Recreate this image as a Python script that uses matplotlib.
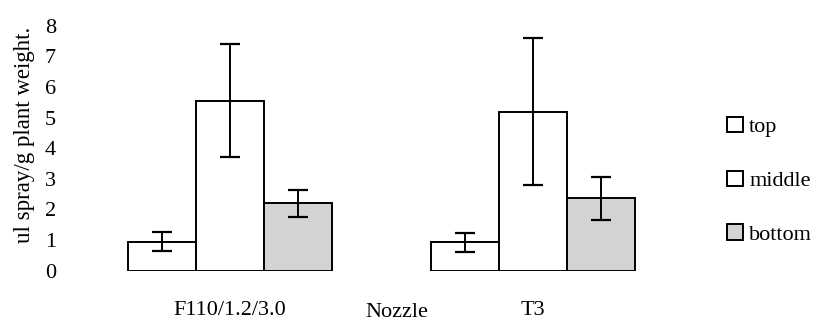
import matplotlib.pyplot as plt
import numpy as np

nozzles = ["F110/1.2/3.0", "T3"]
positions = ["top", "middle", "bottom"]
top_vals = [0.95, 0.93]
top_err = [0.32, 0.31]
middle_vals = [5.55, 5.2]
middle_err = [1.85, 2.4]
bottom_vals = [2.2, 2.37]
bottom_err = [0.45, 0.7]
colors = ["white", "white", "#d3d3d3"]
y_ticks = [0, 1, 2, 3, 4, 5, 6, 7, 8]


def main() -> None:
    plt.rcParams["font.family"] = "Liberation Serif"
    plt.rcParams["font.size"] = 16

    fig = plt.figure(figsize=(8.17, 3.23), dpi=100)
    ax = fig.add_axes([60 / 817, 52.3 / 323, 600 / 817, 254 / 323])

    x = np.arange(len(nozzles))
    width = 0.224
    series = [(top_vals, top_err), (middle_vals, middle_err),
              (bottom_vals, bottom_err)]
    for i, (vals, err) in enumerate(series):
        ax.bar(x + (i - 1) * width, vals, width, yerr=err,
               color=colors[i], edgecolor="black", linewidth=1.4,
               label=positions[i],
               error_kw=dict(ecolor="black", elinewidth=1.4,
                             capsize=7, capthick=1.6))

    ax.set_xlim((60 - 230) / 303, (660 - 230) / 303)
    ax.set_ylim(0, 254 / 30.6)
    ax.set_yticks(y_ticks)
    ax.set_xticks(x)
    ax.set_xticklabels(nozzles)
    ax.tick_params(axis="both", length=0)
    ax.tick_params(axis="x", pad=22)
    ax.tick_params(axis="y", pad=3)
    for s in ax.spines.values():
        s.set_visible(False)

    ax.set_ylabel("ul spray/g plant weight.", fontsize=16.5)
    ax.yaxis.set_label_coords(-0.042, 0.534)
    fig.text(397 / 817, 1 / 323, "Nozzle", ha="center", va="bottom")

    fig.legend(loc="center left", bbox_to_anchor=(707 / 817, 0.44),
               frameon=False, handlelength=0.7, handleheight=0.7,
               handletextpad=0.3, labelspacing=1.5)

    fig.savefig("out.png", dpi=100)


if __name__ == "__main__":
    main()
